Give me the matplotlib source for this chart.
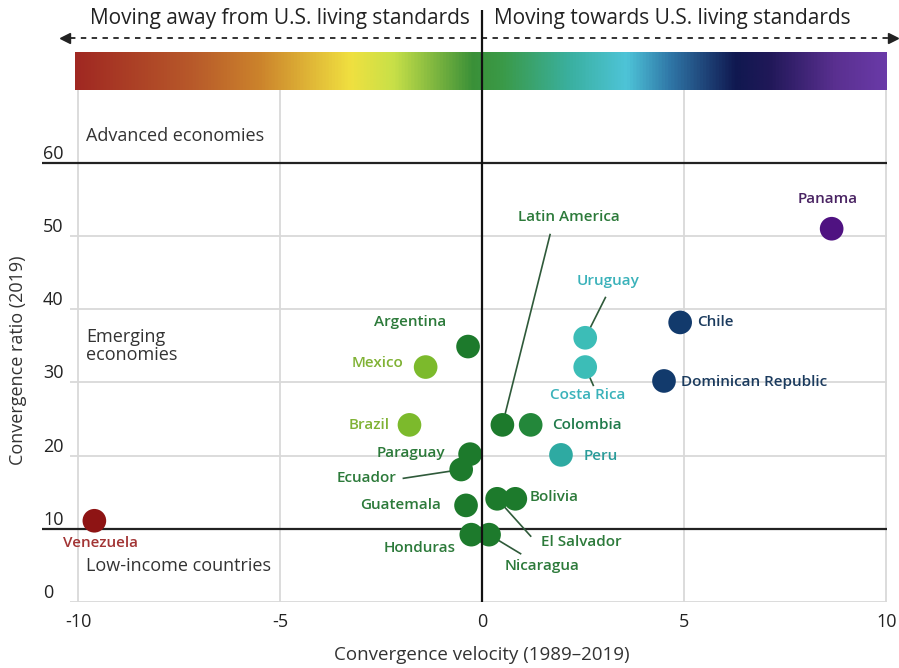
import matplotlib
matplotlib.use("Agg")
import matplotlib.pyplot as plt
import numpy as np
from matplotlib.colors import LinearSegmentedColormap
from matplotlib.transforms import ScaledTranslation

plt.rcParams['font.family'] = ['Open Sans', 'DejaVu Sans']

# data
countries = ['Venezuela', 'Mexico', 'Argentina', 'Brazil', 'Paraguay', 'Ecuador',
             'Guatemala', 'Honduras', 'Nicaragua', 'El Salvador', 'Bolivia',
             'Latin America', 'Colombia', 'Peru', 'Uruguay', 'Costa Rica',
             'Chile', 'Dominican Republic', 'Panama']
velocity = [-9.6, -1.4, -0.35, -1.8, -0.3, -0.52, -0.4, -0.27, 0.17, 0.37, 0.82,
            0.5, 1.2, 1.95, 2.55, 2.55, 4.9, 4.5, 8.65]
ratio = [11.1, 32.1, 34.9, 24.2, 20.2, 18.1, 13.2, 9.2, 9.2, 14.1, 14.1,
         24.2, 24.2, 20.1, 36.1, 32.1, 38.2, 30.2, 51.0]
group = ['red', 'lime', 'green', 'lime', 'green', 'green', 'green', 'green', 'green',
         'green', 'green', 'green', 'green2', 'teal2', 'teal', 'teal', 'navy', 'navy', 'purple']

xticks = [-10, -5, 0, 5, 10]
yticks = [0, 10, 20, 30, 40, 50, 60]

dot_colors = {'red': '#8e1414', 'lime': '#7cba2c', 'green': '#1d7a2c', 'green2': '#23873a',
              'teal': '#3cbdb7', 'teal2': '#2eaaa2', 'navy': '#123a6c', 'purple': '#4f1281'}
text_colors = {'red': '#a23434', 'lime': '#80b235', 'green': '#2c7a3a', 'green2': '#1f7a4a',
               'teal': '#3ab2ba', 'teal2': '#2a9c9a', 'navy': '#1b3b5e', 'purple': '#4a2463'}

# label placement: (x, y, ha, leader line start or None)
label_pos = {
    'Venezuela': (-9.45, 8.0, 'center', None),
    'Mexico': (-1.95, 32.6, 'right', None),
    'Argentina': (-1.78, 38.3, 'center', None),
    'Brazil': (-2.3, 24.2, 'right', None),
    'Paraguay': (-0.92, 20.3, 'right', None),
    'Ecuador': (-2.12, 16.9, 'right', (-1.95, 16.9)),
    'Guatemala': (-1.02, 13.3, 'right', None),
    'Honduras': (-0.65, 7.4, 'right', None),
    'Nicaragua': (0.55, 4.9, 'left', (0.95, 6.6)),
    'El Salvador': (1.45, 8.2, 'left', (1.2, 9.0)),
    'Bolivia': (1.18, 14.3, 'left', None),
    'Latin America': (2.15, 52.6, 'center', (1.68, 50.2)),
    'Colombia': (1.72, 24.2, 'left', None),
    'Peru': (2.5, 20.0, 'left', None),
    'Uruguay': (3.12, 43.9, 'center', (3.05, 41.6)),
    'Costa Rica': (2.62, 28.3, 'center', (2.75, 29.6)),
    'Chile': (5.32, 38.2, 'left', None),
    'Dominican Republic': (4.93, 30.1, 'left', None),
    'Panama': (8.55, 55.1, 'center', None),
}

fig = plt.figure(figsize=(8.99, 6.68), dpi=100)
ax = fig.add_axes([0.078, 0.0988, 0.910, 0.893])
ax.set_xlim(-10.2, 10.05)
ax.set_ylim(0, 81.5)
for s in ax.spines.values():
    s.set_visible(False)

# grid
for v in [0, 20, 30, 40, 50]:
    ax.hlines(v, -10.2, 10.02, color='#d9d9d9', lw=1.3, zorder=1)
for v in [-10, -5, 5, 10]:
    ax.vlines(v, 0, 69.9, color='#d9d9d9', lw=1.3, zorder=1)
for v in [10, 60]:
    ax.hlines(v, -10.9, 10.02, color='#222222', lw=1.6, zorder=2, clip_on=False)
ax.vlines(0, 0, 80.9, color='#111111', lw=1.6, zorder=5)

# colour bar on top
cmap = LinearSegmentedColormap.from_list('conv', [
    (0.0, '#a02822'), (0.145, '#b85a2a'), (0.228, '#cc842c'), (0.339, '#f0e040'),
    (0.392, '#c8e048'), (0.49, '#3a9038'), (0.527, '#3a9a48'), (0.61, '#3ab0a0'),
    (0.68, '#4ec4d8'), (0.733, '#3078a8'), (0.815, '#101850'), (0.856, '#201858'),
    (0.938, '#5a3090'), (1.0, '#6a3aa8')])
ax.imshow(np.linspace(0, 1, 512)[None, :], cmap=cmap, aspect='auto',
          extent=(-10.07, 10.02, 69.9, 75.0), zorder=3)
ax.plot([-10.2, 10.05], [77.0, 77.0], color='#222222', lw=1.3, ls=(0, (3, 3)), clip_on=False)
ax.plot([-10.32], [77.0], marker='<', color='#222222', ms=7, clip_on=False)
ax.plot([10.17], [77.0], marker='>', color='#222222', ms=7, clip_on=False)
ax.text(-0.3, 79.7, 'Moving away from U.S. living standards', ha='right', va='center',
        fontsize=15, color='#222222')
ax.text(0.3, 79.7, 'Moving towards U.S. living standards', ha='left', va='center',
        fontsize=15, color='#222222')

# zone labels
ax.text(-9.8, 63.7, 'Advanced economies', ha='left', va='center', fontsize=13, color='#333333')
ax.text(-9.8, 35.0, 'Emerging\neconomies', ha='left', va='center', fontsize=13,
        color='#333333', linespacing=1.0)
ax.text(-9.8, 4.9, 'Low-income countries', ha='left', va='center', fontsize=13, color='#333333')

# points
ax.scatter(velocity, ratio, s=290, c=[dot_colors[g] for g in group], edgecolors='none', zorder=4)

for name, g in zip(countries, group):
    lx, ly, ha, lead = label_pos[name]
    ax.text(lx, ly, name, ha=ha, va='center', fontsize=11, fontweight='semibold',
            color=text_colors[g], zorder=6)
for name, px, py in zip(countries, velocity, ratio):
    lead = label_pos[name][3]
    if lead is not None:
        ax.plot([lead[0], px], [lead[1], py], color='#2f5a3a', lw=1.2, zorder=3)

# axes text
ax.set_xticks(xticks)
ax.set_xticklabels([str(v) for v in xticks], fontsize=13, color='#222222')
ax.set_yticks(yticks)
ax.set_yticklabels([str(v) for v in yticks], fontsize=13, color='#222222')
ax.tick_params(axis='x', length=0, pad=8)
ax.tick_params(axis='y', length=0, pad=0)
for lab in ax.get_yticklabels():
    lab.set_horizontalalignment('left')
    lab.set_verticalalignment('bottom')
    lab.set_transform(lab.get_transform() + ScaledTranslation(-0.27, 0.0, fig.dpi_scale_trans))

ax.text(-11.5, 33, 'Convergence ratio (2019)', rotation=90, ha='center', va='center',
        fontsize=13, color='#333333', clip_on=False)
ax.text(0, -7.3, 'Convergence velocity (1989\u20132019)', ha='center', va='center',
        fontsize=13.5, color='#333333', clip_on=False)

fig.savefig('out.png', dpi=100)
